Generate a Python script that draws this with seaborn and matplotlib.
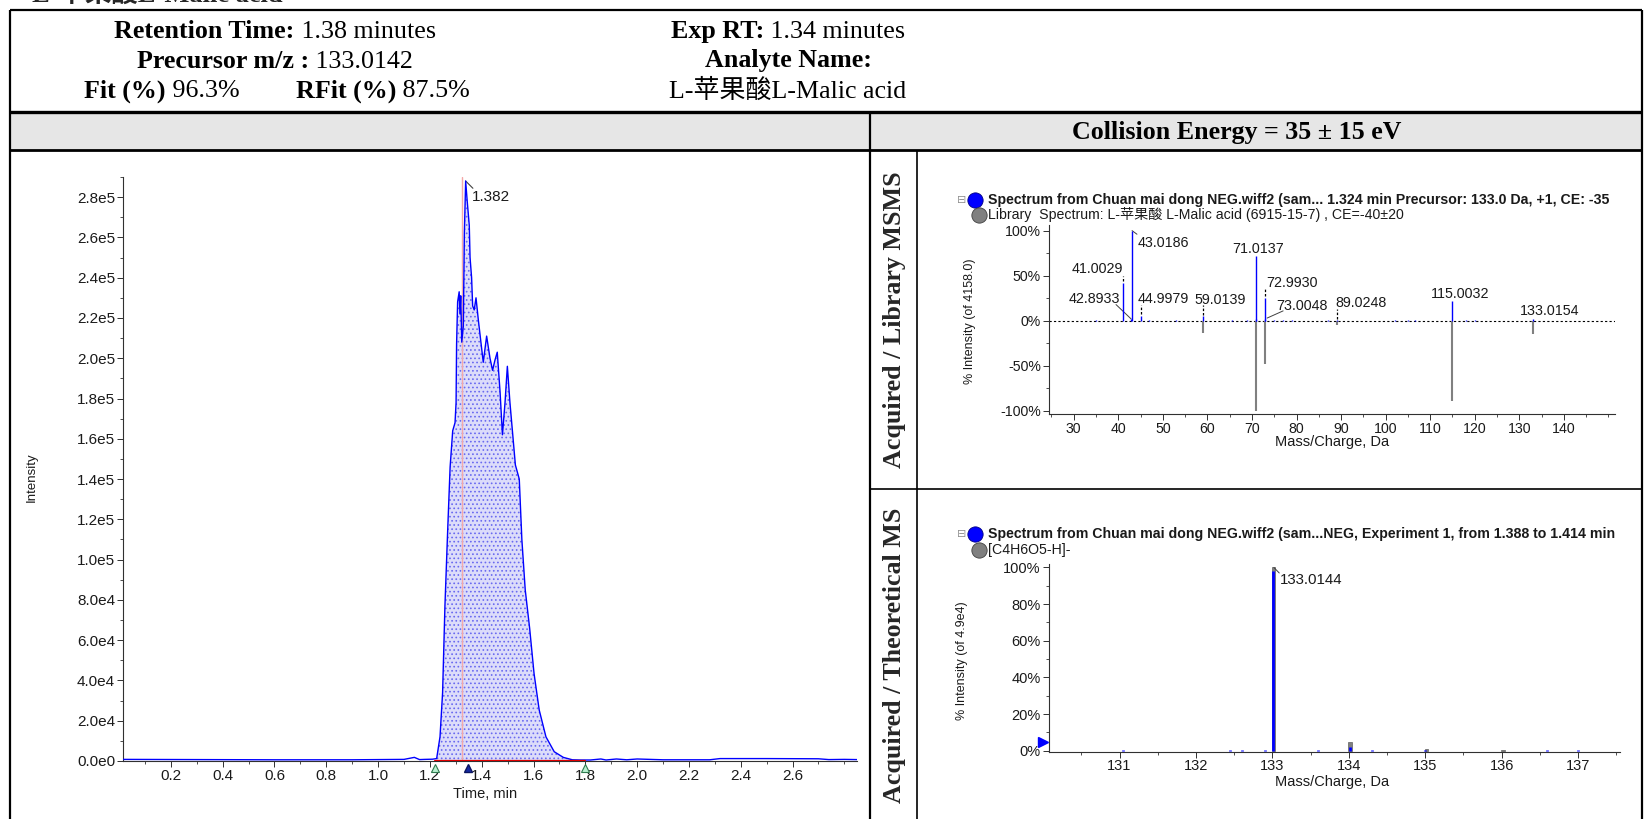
import numpy as np
import pandas as pd
import matplotlib
matplotlib.use("Agg")
import matplotlib.pyplot as plt
import seaborn as sns
from matplotlib.patches import Rectangle
from matplotlib.offsetbox import TextArea, HPacker, AnnotationBbox
from matplotlib.ticker import MultipleLocator

# ------------------ data ------------------
# extracted ion chromatogram
xic_time = [0.014, 0.30, 0.60, 0.90, 1.10, 1.14, 1.16, 1.18, 1.21, 1.226, 1.239, 1.249,
            1.258, 1.269, 1.278, 1.288, 1.297, 1.301, 1.303, 1.307, 1.313, 1.316, 1.319,
            1.323, 1.329, 1.333, 1.338, 1.344, 1.352, 1.355, 1.361, 1.365, 1.371, 1.378,
            1.387, 1.396, 1.406, 1.419, 1.432, 1.442, 1.451, 1.460, 1.471, 1.480, 1.490,
            1.499, 1.509, 1.530, 1.545, 1.555, 1.568, 1.585, 1.602, 1.622, 1.648, 1.680,
            1.715, 1.750, 1.78, 1.82, 1.86, 1.88, 1.92, 1.96, 2.00, 2.10, 2.28, 2.32,
            2.50, 2.70, 2.74, 2.80, 2.85]
xic_intensity = [800, 700, 600, 600, 800, 1800, 700, 800, 900, 1200, 12000, 34000,
                 77000, 116000, 146000, 164000, 168000, 178000, 207000, 228000, 233000, 222000, 231000,
                 208000, 216000, 262000, 288000, 278000, 266000, 250000, 240000, 226000, 224000, 230000,
                 219000, 209000, 198000, 211000, 200000, 194000, 199000, 203000, 183000, 162000, 178000,
                 196000, 178000, 147000, 140000, 110000, 85000, 66000, 43500, 25300, 12000, 4600,
                 1800, 600, 500, 500, 1000, 500, 1000, 600, 1000, 600, 600, 1200,
                 1200, 1100, 700, 800, 700]
xic_xticks = [0.2, 0.4, 0.6, 0.8, 1.0, 1.2, 1.4, 1.6, 1.8, 2.0, 2.2, 2.4, 2.6]
xic_yticks = [0, 2e4, 4e4, 6e4, 8e4, 1e5, 1.2e5, 1.4e5, 1.6e5, 1.8e5, 2.0e5, 2.2e5, 2.4e5, 2.6e5, 2.8e5]
xic_yticklabels = ["0.0e0", "2.0e4", "4.0e4", "6.0e4", "8.0e4", "1.0e5", "1.2e5", "1.4e5",
                   "1.6e5", "1.8e5", "2.0e5", "2.2e5", "2.4e5", "2.6e5", "2.8e5"]
peak_start, peak_end = 1.22, 1.80
apex_time, apex_label = 1.338, "1.382"
exp_rt_marker = 1.346
rt_line = 1.323

# acquired / library MSMS (percent)
msms_acq_mz = [35.0, 41.0029, 42.8933, 43.0186, 44.9979, 47.0, 53.0, 59.0139, 65.5, 69.0,
               70.9, 71.0137, 72.9930, 73.0048, 75.0, 77.0, 79.0, 87.0, 89.0248, 102.0,
               105.0, 106.5, 115.0032, 118.0, 120.0, 133.0154]
msms_acq_pct = [0.5, 42, 2, 100, 5, 1, 0.5, 5, 0.5, 1,
                2, 72, 25, 2, 1, 1, 1, 0.5, 1, 0.5,
                0.5, 0.5, 22, 0.5, 0.5, 2]
msms_lib_mz = [59.0139, 70.9, 71.0137, 72.9930, 89.0248, 115.0032, 133.0154]
msms_lib_pct = [13, 3, 100, 48, 5, 89, 15]
msms_xticks = [30, 40, 50, 60, 70, 80, 90, 100, 110, 120, 130, 140]
msms_yticks = [-100, -50, 0, 50, 100]
msms_yticklabels = ["-100%", "-50%", "0%", "50%", "100%"]
msms_labels = ["41.0029", "42.8933", "43.0186", "44.9979", "59.0139", "71.0137",
               "72.9930", "73.0048", "89.0248", "115.0032", "133.0154"]

# acquired / theoretical MS (percent)
ms_acq_mz = [131.05, 132.45, 132.6, 132.9, 133.0144, 133.6, 134.02, 134.3, 135.0, 136.6, 137.0]
ms_acq_pct = [0.4, 0.3, 0.3, 0.3, 98, 0.3, 2, 0.3, 0.5, 0.3, 0.3]
ms_theo_mz = [133.0142, 134.0176, 135.0185, 136.0208]
ms_theo_pct = [100, 4.5, 1.0, 0.5]
ms_xticks = [131, 132, 133, 134, 135, 136, 137]
ms_yticks = [0, 20, 40, 60, 80, 100]
ms_yticklabels = ["0%", "20%", "40%", "60%", "80%", "100%"]
ms_label = "133.0144"

# ------------------ style ------------------
sns.set_theme(style="white")
SANS = ["Liberation Sans", "Noto Sans CJK SC", "DejaVu Sans"]
SERIF = ["Liberation Serif", "Noto Sans CJK SC", "DejaVu Serif"]
plt.rcParams["font.family"] = SANS
plt.rcParams["hatch.linewidth"] = 0.7
plt.rcParams["axes.edgecolor"] = "#303030"
BLUE = "#0000ff"
GRAY = "#808080"
TXT = "#1a1a1a"
HDR = 18.7

W, H = 1644, 819
fig = plt.figure(figsize=(W / 100, H / 100), dpi=100)
bg = fig.add_axes([0, 0, 1, 1])
bg.set_xlim(0, W)
bg.set_ylim(H, 0)
bg.axis("off")


def px_axes(left, top, right, bottom):
    a = fig.add_axes([left / W, 1 - bottom / H, (right - left) / W, (bottom - top) / H])
    a.set_facecolor("none")
    return a


def rich(x, y, parts, align=0.5, size=HDR):
    kids = [TextArea(t, textprops=dict(family=SERIF, fontweight=w, fontsize=size, color="black"))
            for t, w in parts]
    box = HPacker(children=kids, pad=0, sep=0, align="baseline")
    ab = AnnotationBbox(box, (x, y), xycoords="data", box_alignment=(align, 0.5),
                        frameon=False, pad=0)
    bg.add_artist(ab)


# ------------------ frame / header ------------------
bg.add_patch(Rectangle((10, 112), 1632, 38, facecolor="#e6e6e6", edgecolor="none"))
k = dict(color="black", solid_capstyle="butt")
bg.plot([10, 10], [10, 819], lw=1.6, **k)
bg.plot([1642, 1642], [10, 819], lw=1.6, **k)
bg.plot([10, 1642], [10, 10], lw=1.6, **k)
bg.plot([10, 1642], [112, 112], lw=2.4, **k)
bg.plot([10, 1642], [150, 150], lw=2.0, **k)
bg.plot([870, 870], [112, 819], lw=1.6, **k)
bg.plot([917, 917], [150, 819], lw=1.2, **k)
bg.plot([870, 1642], [489, 489], lw=1.2, **k)

bg.text(32, -6, "L-苹果酸L-Malic acid", family=SERIF, fontweight="bold", fontsize=19, va="center")

rich(275, 31.5, [("Retention Time:", "bold"), (" 1.38 minutes", "normal")])
rich(275, 61, [("Precursor m/z :", "bold"), (" 133.0142", "normal")])
rich(84, 91, [("Fit (%)", "bold"), (" 96.3%", "normal")], align=0)
rich(296, 91, [("RFit (%)", "bold"), (" 87.5%", "normal")], align=0)
rich(788, 31.5, [("Exp RT:", "bold"), (" 1.34 minutes", "normal")])
rich(788, 61, [("Analyte Name:", "bold")])
rich(788, 91, [("L-苹果酸L-Malic acid", "normal")])
rich(1237, 133, [("Collision Energy = 35 ± 15 eV", "bold")])

bg.text(894, 320, "Acquired / Library MSMS", family=SERIF, fontweight="bold", fontsize=HDR,
        rotation=90, ha="center", va="center")
bg.text(894, 655, "Acquired / Theoretical MS", family=SERIF, fontweight="bold", fontsize=HDR,
        rotation=90, ha="center", va="center")

# ------------------ chromatogram ------------------
xic = pd.DataFrame({"time": xic_time, "intensity": xic_intensity})
ax1 = px_axes(122.7, 177, 857.3, 761)
inpk = xic[(xic["time"] >= peak_start) & (xic["time"] <= peak_end)]
ax1.fill_between(inpk["time"], inpk["intensity"], 0, facecolor="#dcdcfa", edgecolor="#6a6af0",
                 hatch="....", lw=0, zorder=1)
ax1.axvline(rt_line, color="#f4a8a8", lw=1.0, zorder=2)
sns.lineplot(data=xic, x="time", y="intensity", ax=ax1, color=BLUE, lw=1.0,
             estimator=None, sort=False, zorder=3)
ax1.plot([peak_start, peak_end], [0, 0], color="#e00000", lw=1.6, zorder=4)
xt = ax1.get_xaxis_transform()
ax1.plot([peak_start, peak_end], [-0.012, -0.012], transform=xt, ls="none", marker="^", ms=6,
         mfc="#b8f0d0", mec="#2f7a4f", mew=0.8, clip_on=False, zorder=5)
ax1.plot([exp_rt_marker], [-0.012], transform=xt, ls="none", marker="^", ms=6,
         mfc="#1428a0", mec="#0a1460", clip_on=False, zorder=5)
apex_y = max(xic_intensity)
ax1.plot([apex_time, apex_time + 0.028], [apex_y, apex_y - 3.6e3], color="#404040", lw=0.8)
ax1.text(apex_time + 0.024, apex_y - 8e3, apex_label, fontsize=11, color=TXT, va="center", ha="left")
ax1.set_xlim(0.014, 2.85)
ax1.set_ylim(0, 2.9e5)
ax1.set_xticks(xic_xticks)
ax1.set_xticklabels([f"{v:.1f}" for v in xic_xticks])
ax1.set_yticks(xic_yticks)
ax1.set_yticklabels(xic_yticklabels)
ax1.xaxis.set_minor_locator(MultipleLocator(0.1))
ax1.yaxis.set_minor_locator(MultipleLocator(1e4))
bg.text(32, 477, "Intensity", fontsize=9.5, rotation=90, ha="center", va="center", color=TXT)
bg.text(485, 794, "Time, min", fontsize=10.5, ha="center", va="center", color=TXT)

# ------------------ MSMS ------------------
ax2 = px_axes(1048.5, 225.4, 1614.7, 414.2)
ax2.axhline(0, color="black", lw=0.8, ls=(0, (2, 2)), zorder=1)
ax2.vlines(msms_lib_mz, 0, [-v for v in msms_lib_pct], color=GRAY, lw=1.5, zorder=2)
ax2.vlines(msms_acq_mz, 0, msms_acq_pct, color=BLUE, lw=1.0, zorder=3)
lab_pos = {"41.0029": (35.4, 57, "center"), "42.8933": (34.7, 24, "center"),
           "43.0186": (44.3, 86, "left"), "44.9979": (50.0, 24, "center"),
           "59.0139": (62.8, 23, "center"), "71.0137": (71.4, 80, "center"),
           "72.9930": (79.0, 42, "center"), "73.0048": (81.3, 16, "center"),
           "89.0248": (94.5, 20, "center"), "115.0032": (116.8, 30, "center"),
           "133.0154": (136.8, 10.5, "center")}
for lab in msms_labels:
    x, y, ha = lab_pos[lab]
    ax2.text(x, y, lab, fontsize=10.3, ha=ha, va="center", color=TXT)
ticks = [(41.0, 44, 50), (45.0, 7, 17), (59.0, 6, 17), (73.0, 28, 35), (89.0, 2, 13)]
for x, y0, y1 in ticks:
    ax2.plot([x, x], [y0, y1], color="black", lw=0.9, ls=(0, (2, 1.5)))
ax2.plot([39.5, 42.9], [18, 2], color="#404040", lw=0.7)
ax2.plot([77.0, 73.4], [11, 3], color="#404040", lw=0.7)
ax2.plot([43.1, 44.2], [100, 96], color="#404040", lw=0.7)
ax2.set_xlim(24.35, 151.4)
ax2.set_ylim(-103.6, 105.8)
ax2.set_xticks(msms_xticks)
ax2.set_yticks(msms_yticks)
ax2.set_yticklabels(msms_yticklabels)
ax2.xaxis.set_minor_locator(MultipleLocator(5))
ax2.yaxis.set_minor_locator(MultipleLocator(25))
bg.text(970, 321, "% Intensity (of 4158.0)", fontsize=9, rotation=90, ha="center", va="center", color=TXT)
bg.text(1332, 442, "Mass/Charge, Da", fontsize=10.5, ha="center", va="center", color=TXT)

# legend
bg.text(962, 200, "⊟", family="DejaVu Sans", fontsize=8, color="#909090", ha="center", va="center")
bg.plot([975], [200], marker="o", ms=11, mfc=BLUE, mec="#000080", mew=0.6)
bg.text(988, 200, "Spectrum from Chuan mai dong NEG.wiff2 (sam... 1.324 min Precursor: 133.0 Da, +1, CE: -35",
        fontsize=10.2, fontweight="bold", va="center", color=TXT)
bg.plot([979], [215], marker="o", ms=11, mfc=GRAY, mec="#404040", mew=0.6)
bg.text(988, 215, "Library  Spectrum: L-苹果酸 L-Malic acid (6915-15-7) , CE=-40±20",
        fontsize=10.2, va="center", color=TXT)

# ------------------ MS ------------------
ax3 = px_axes(1048.5, 564, 1620, 751.8)
ax3.bar(ms_theo_mz, ms_theo_pct, width=0.045, color=GRAY, edgecolor="#606060", lw=0.5, zorder=2)
ax3.vlines(ms_acq_mz, 0, ms_acq_pct, color=BLUE, lw=2.0, zorder=3)
ax3.plot([133.02, 133.09], [100, 97], color="#404040", lw=0.7)
ax3.text(133.10, 93, ms_label, fontsize=10.8, ha="left", va="center", color=TXT)
ax3.plot([130.0], [5], marker=">", ms=7, color=BLUE, clip_on=False)
ax3.set_xlim(130.07, 137.55)
ax3.set_ylim(-0.6, 101.9)
ax3.set_xticks(ms_xticks)
ax3.set_yticks(ms_yticks)
ax3.set_yticklabels(ms_yticklabels)
ax3.xaxis.set_minor_locator(MultipleLocator(0.5))
ax3.yaxis.set_minor_locator(MultipleLocator(10))
bg.text(962, 661, "% Intensity (of 4.9e4)", fontsize=9, rotation=90, ha="center", va="center", color=TXT)
bg.text(1332, 782, "Mass/Charge, Da", fontsize=10.5, ha="center", va="center", color=TXT)

bg.text(962, 534, "⊟", family="DejaVu Sans", fontsize=8, color="#909090", ha="center", va="center")
bg.plot([975], [534], marker="o", ms=11, mfc=BLUE, mec="#000080", mew=0.6)
bg.text(988, 534, "Spectrum from Chuan mai dong NEG.wiff2 (sam...NEG, Experiment 1, from 1.388 to 1.414 min",
        fontsize=10.2, fontweight="bold", va="center", color=TXT)
bg.plot([979], [550], marker="o", ms=11, mfc=GRAY, mec="#404040", mew=0.6)
bg.text(988, 550, "[C4H6O5-H]-", fontsize=10.2, va="center", color=TXT)

for a, lsz in ((ax1, 11), (ax2, 10.2), (ax3, 10.5)):
    sns.despine(ax=a)
    for s in ("left", "bottom"):
        a.spines[s].set_linewidth(0.8)
    a.tick_params(axis="both", which="major", length=4, width=0.7, labelsize=lsz,
                  colors="#303030", labelcolor=TXT, direction="out", bottom=True, left=True, pad=1.5)
    a.tick_params(axis="both", which="minor", length=2, width=0.6, colors="#303030",
                  direction="out", bottom=True, left=True)
    a.set_xlabel("")
    a.set_ylabel("")

fig.savefig("out.png", dpi=100)
